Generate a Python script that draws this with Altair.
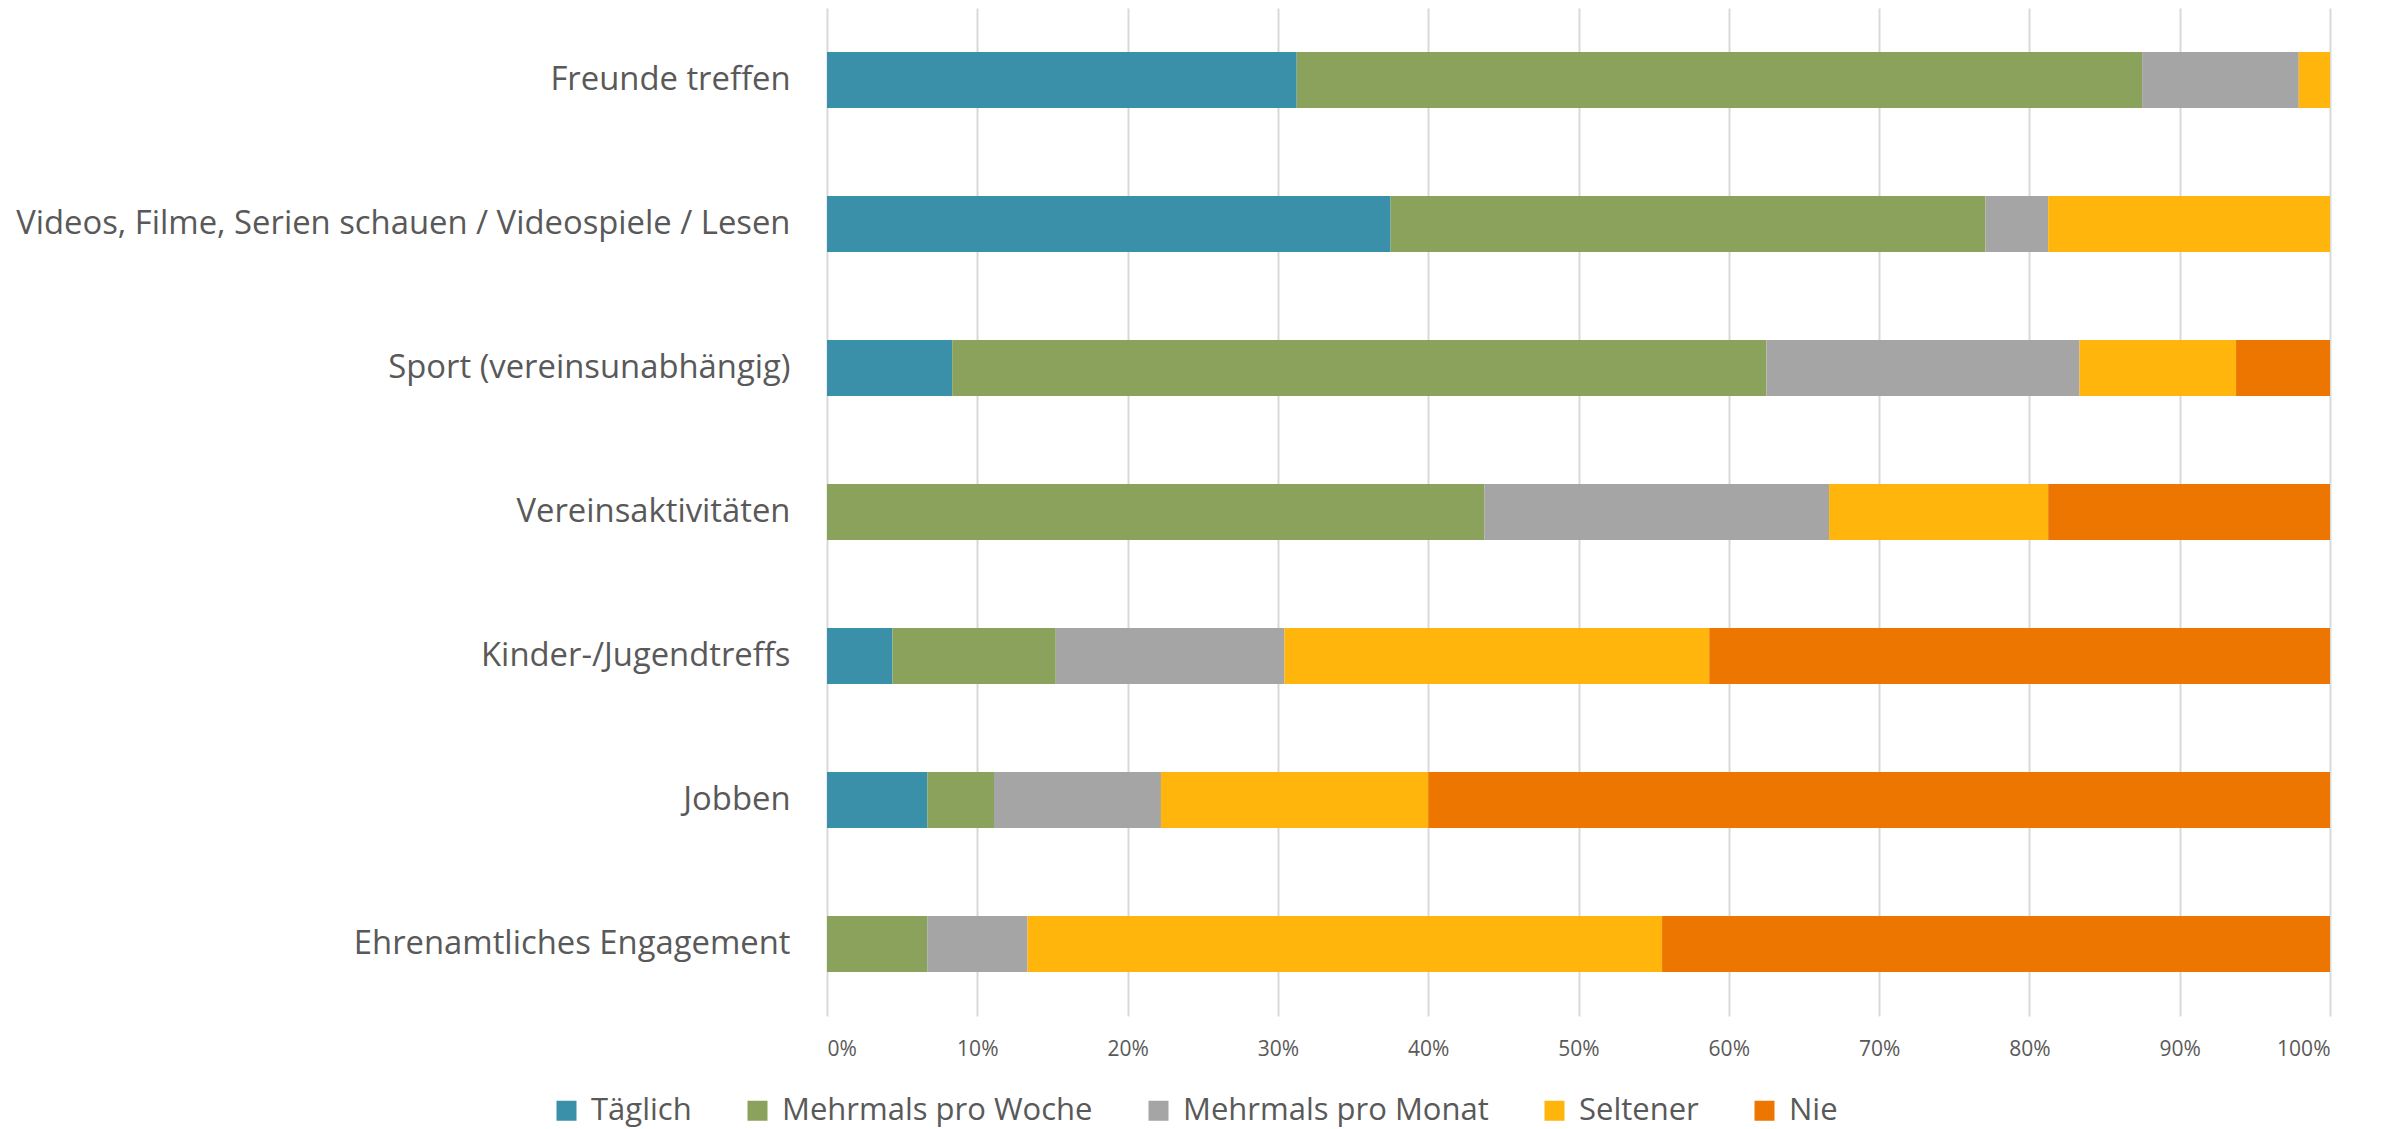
import altair as alt
import pandas as pd

categories = [
    "Freunde treffen",
    "Videos, Filme, Serien schauen / Videospiele / Lesen",
    "Sport (vereinsunabhängig)",
    "Vereinsaktivitäten",
    "Kinder-/Jugendtreffs",
    "Jobben",
    "Ehrenamtliches Engagement",
]
series = ["Täglich", "Mehrmals pro Woche", "Mehrmals pro Monat", "Seltener", "Nie"]
taeglich = [31.25, 37.5, 8.33, 0.0, 4.35, 6.67, 0.0]
woche = [56.25, 39.58, 54.17, 43.75, 10.87, 4.44, 6.67]
monat = [10.42, 4.17, 20.83, 22.92, 15.22, 11.11, 6.67]
seltener = [2.08, 18.75, 10.42, 14.58, 28.26, 17.78, 42.22]
nie = [0.0, 0.0, 6.25, 18.75, 41.30, 60.0, 44.44]
colors = ["#3A90A8", "#8BA25C", "#A5A5A5", "#FFB50B", "#ED7600"]
tick_values = [0.0, 0.1, 0.2, 0.3, 0.4, 0.5, 0.6, 0.7, 0.8, 0.9, 1.0]

rows = []
for i, c in enumerate(categories):
    for j, (s, vals) in enumerate(zip(series, [taeglich, woche, monat, seltener, nie])):
        rows.append({"Aktivität": c, "Häufigkeit": s, "Anteil": vals[i], "ord": j})
df = pd.DataFrame(rows)

text_color = "#595959"

chart = alt.Chart(df).mark_bar().encode(
    y=alt.Y(
        "Aktivität:N",
        sort=categories,
        scale=alt.Scale(paddingInner=0.61, paddingOuter=0.305),
        axis=alt.Axis(
            title=None, labelFont="Open Sans", labelFontSize=32.8, labelColor=text_color,
            labelPadding=37, ticks=False, domain=False, labelLimit=1200, grid=False,
        ),
    ),
    x=alt.X(
        "Anteil:Q",
        stack="normalize",
        scale=alt.Scale(domain=[0, 1], nice=False),
        axis=alt.Axis(
            title=None, format=".0%", values=tick_values, labelFont="Open Sans",
            labelFontSize=21, labelColor=text_color, labelPadding=22, ticks=False,
            domain=False, grid=True, gridColor="#D9D9D9", gridWidth=2,
        ),
    ),
    color=alt.Color(
        "Häufigkeit:N",
        scale=alt.Scale(domain=series, range=colors),
        legend=alt.Legend(
            title=None, orient="none", legendX=-276, legendY=1087, direction="horizontal",
            columns=5, symbolType="square", symbolSize=400, symbolStrokeWidth=0,
            labelFont="Open Sans", labelFontSize=31, labelColor=text_color,
            labelLimit=600, columnPadding=50, labelOffset=9, padding=0,
        ),
    ),
    order=alt.Order("ord:Q", sort="ascending"),
).properties(
    width=1503,
    height=1008,
    autosize=alt.AutoSizeParams(type="none"),
    padding={"left": 819, "right": 46, "top": 0, "bottom": 113},
).configure_view(stroke=None)

chart.save("out.html", embed_options={"renderer": "svg", "actions": False})
